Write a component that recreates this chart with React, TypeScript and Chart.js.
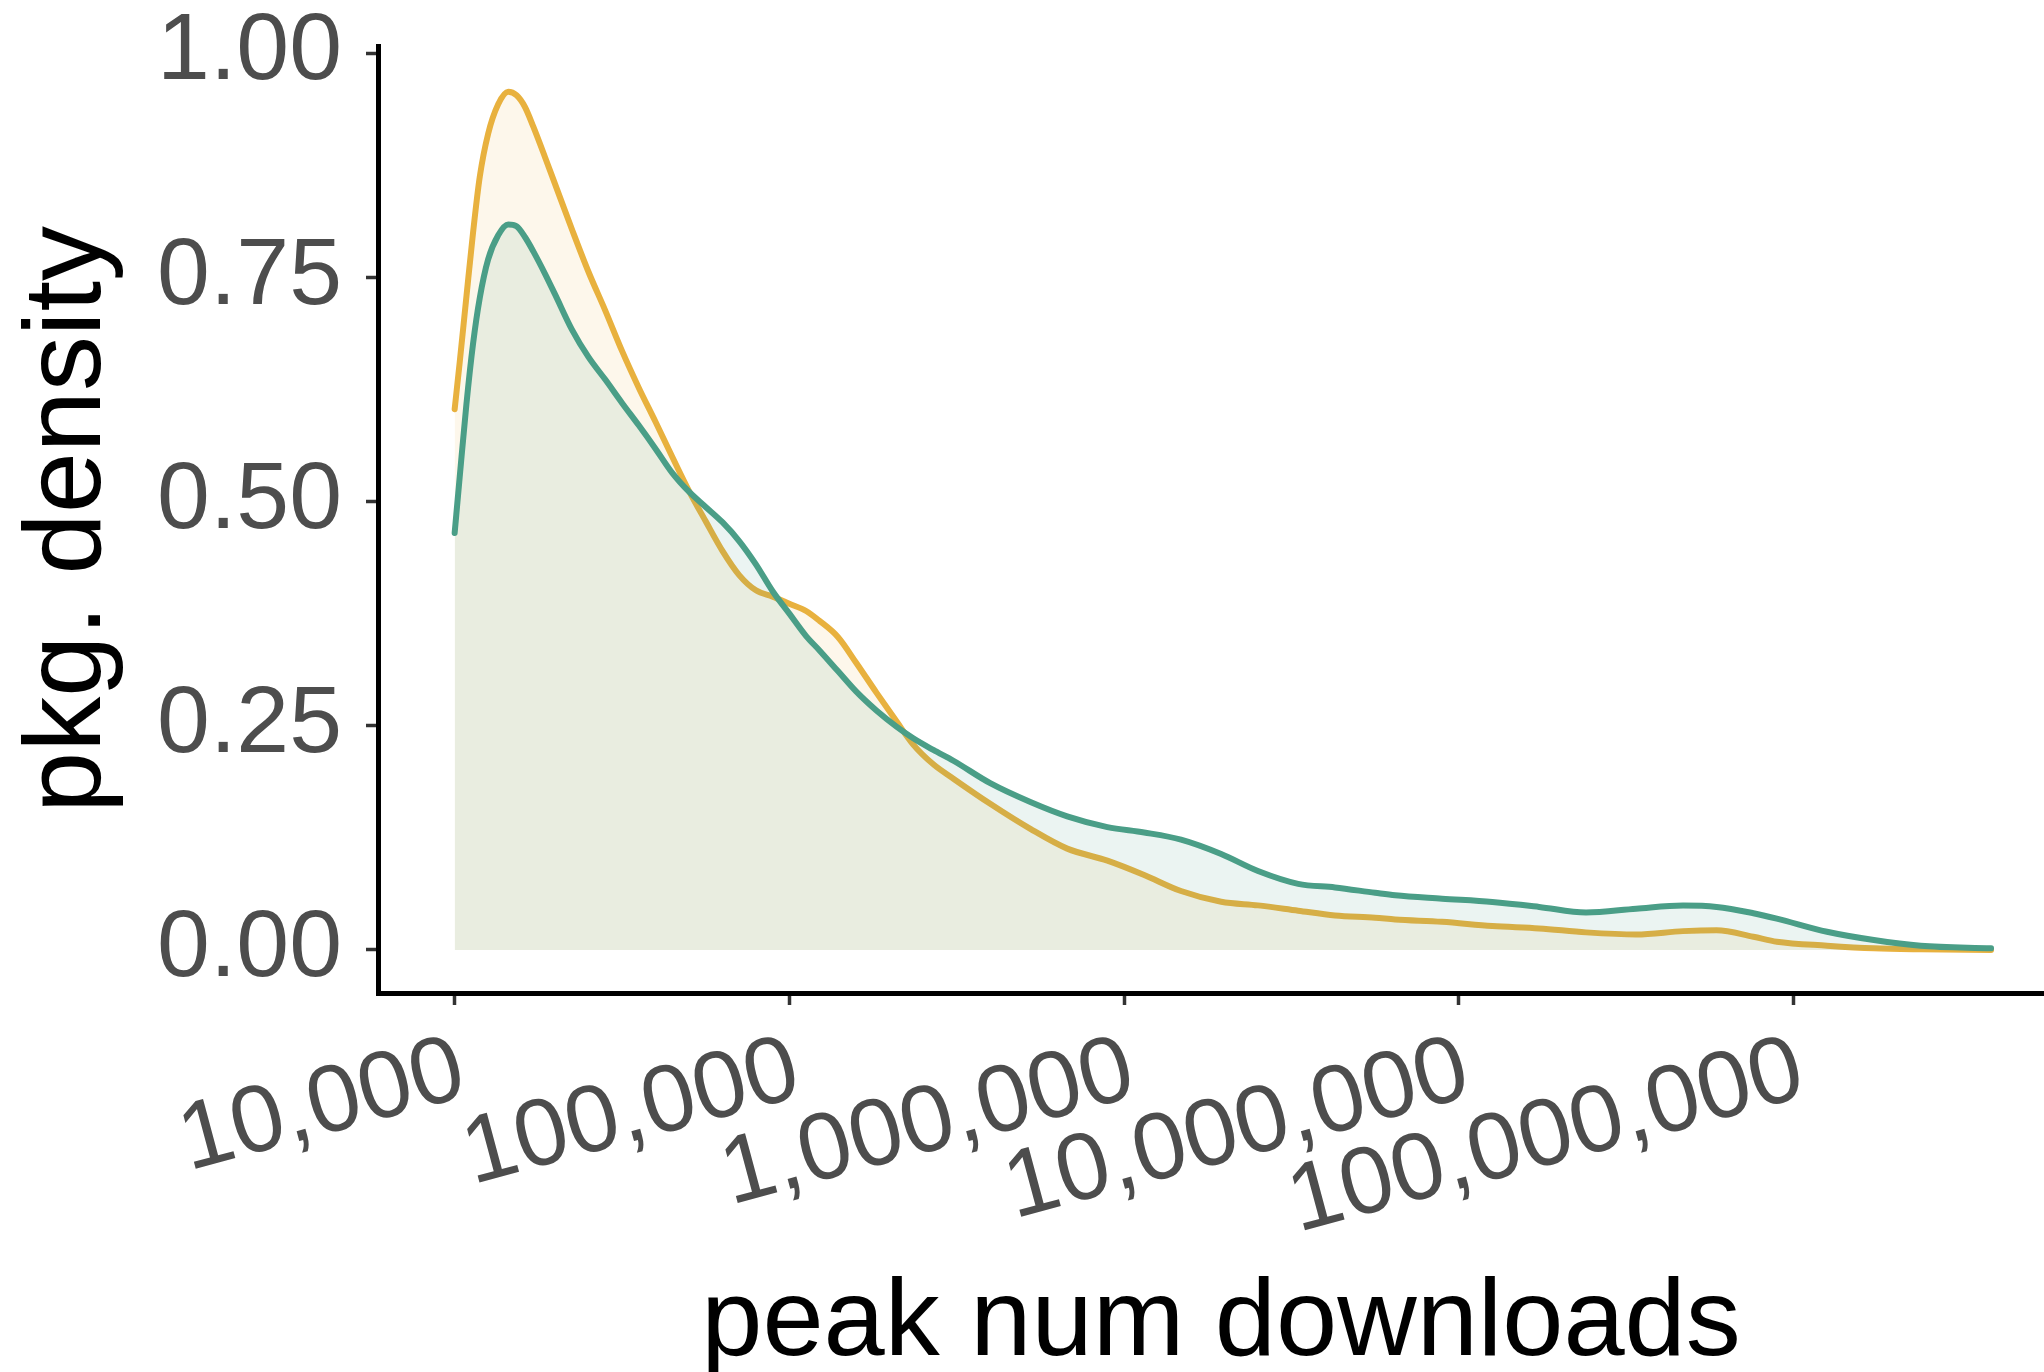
import React, { useEffect, useRef } from "react";
import { Chart, registerables } from "chart.js";

Chart.register(...registerables);

// x positions as log10(peak num downloads)
const logDownloads = [
  4.0, 4.015, 4.035, 4.055, 4.075, 4.1, 4.13, 4.16, 4.185, 4.21, 4.235, 4.27, 4.3, 4.35, 4.4, 4.45, 4.5,
  4.55, 4.6, 4.65, 4.7, 4.75, 4.8, 4.85, 4.9, 4.95, 5.0, 5.05, 5.09, 5.145, 5.2, 5.26, 5.32,
  5.37, 5.43, 5.49, 5.6, 5.72, 5.83, 5.95, 6.06, 6.17, 6.29, 6.4, 6.52, 6.63, 6.75, 6.81,
  6.95, 7.1, 7.24, 7.38, 7.53, 7.67, 7.77, 7.88, 7.95, 8.1, 8.24, 8.38, 8.59,
];

const densityYellow = [
  0.603, 0.655, 0.728, 0.8, 0.862, 0.91, 0.943, 0.957, 0.953, 0.94, 0.918, 0.884, 0.854, 0.804, 0.756, 0.713, 0.668,
  0.627, 0.589, 0.55, 0.512, 0.478, 0.445, 0.418, 0.401, 0.394, 0.386, 0.378, 0.367, 0.349, 0.32, 0.287, 0.255,
  0.229, 0.207, 0.191, 0.163, 0.135, 0.113, 0.0996, 0.0836, 0.0657, 0.0537, 0.0497, 0.0438, 0.0385, 0.036, 0.034,
  0.0314, 0.0266, 0.024, 0.0196, 0.0173, 0.021, 0.022, 0.0148, 0.0092, 0.0048, 0.0018, 0.0007, 0.0,
];

const densityGreen = [
  0.465, 0.527, 0.608, 0.676, 0.727, 0.77, 0.797, 0.809, 0.807, 0.795, 0.779, 0.754, 0.731, 0.692, 0.661, 0.636, 0.61,
  0.585, 0.559, 0.532, 0.511, 0.494, 0.477, 0.456, 0.43, 0.4, 0.375, 0.35, 0.334, 0.311, 0.288, 0.267, 0.249,
  0.236, 0.223, 0.211, 0.186, 0.165, 0.149, 0.137, 0.131, 0.123, 0.107, 0.088, 0.0737, 0.0697, 0.0637, 0.0609,
  0.0572, 0.0535, 0.048, 0.0417, 0.046, 0.0495, 0.048, 0.041, 0.035, 0.0203, 0.0111, 0.0048, 0.0018,
];

const xTickValues = [10000, 100000, 1000000, 10000000, 100000000];
const yTickValues = [0, 0.25, 0.5, 0.75, 1.0];

const X_MIN_EXP = 3.771;
const X_MAX_EXP = 8.808;
const Y_MIN = -0.048;
const Y_MAX = 1.008;

const YELLOW = "#E8B13E";
const GREEN = "#4A9E87";
const FONT = "'Liberation Sans', Arial, Helvetica, sans-serif";

export default function App() {
  const ref = useRef<HTMLCanvasElement | null>(null);

  useEffect(() => {
    if (!ref.current) return;
    const toPoints = (ys: number[]) =>
      logDownloads.map((e, i) => ({ x: Math.pow(10, e), y: ys[i] }));

    const chart = new Chart(ref.current, {
      type: "line",
      data: {
        datasets: [
          {
            label: "A",
            data: toPoints(densityGreen),
            borderColor: GREEN,
            backgroundColor: "rgba(74,158,135,0.11)",
            borderWidth: 6,
            pointRadius: 0,
            fill: "origin",
            cubicInterpolationMode: "monotone",
            borderCapStyle: "round",
            borderJoinStyle: "round",
          },
          {
            label: "B",
            data: toPoints(densityYellow),
            borderColor: YELLOW,
            backgroundColor: "rgba(232,177,62,0.10)",
            borderWidth: 6,
            pointRadius: 0,
            fill: "origin",
            cubicInterpolationMode: "monotone",
            borderCapStyle: "round",
            borderJoinStyle: "round",
          },
        ],
      },
      options: {
        animation: false,
        responsive: false,
        maintainAspectRatio: false,
        layout: { padding: { top: 46, right: 0, left: 0, bottom: 0 } },
        plugins: { legend: { display: false }, tooltip: { enabled: false } },
        scales: {
          x: {
            type: "logarithmic",
            min: Math.pow(10, X_MIN_EXP),
            max: Math.pow(10, X_MAX_EXP),
            afterBuildTicks: (s: any) => {
              s.ticks = xTickValues.map((v) => ({ value: v }));
            },
            afterFit: (s: any) => {
              s.height = 379;
              s.paddingLeft = 0;
              s.paddingRight = 0;
            },
            grid: {
              drawOnChartArea: false,
              drawTicks: true,
              tickLength: 12,
              tickWidth: 3.5,
              tickColor: "#333333",
            },
            border: { display: true, color: "#000000", width: 5 },
            ticks: {
              autoSkip: false,
              maxRotation: 15,
              minRotation: 15,
              color: "#4D4D4D",
              font: { family: FONT, size: 95 },
              padding: 10,
              labelOffset: 8,
              callback: (v: any) => Number(v).toLocaleString("en-US"),
            },
            title: {
              display: true,
              text: "peak num downloads",
              color: "#000000",
              font: { family: FONT, size: 110 },
              padding: { top: 0, bottom: -19 },
            },
          },
          y: {
            type: "linear",
            min: Y_MIN,
            max: Y_MAX,
            afterBuildTicks: (s: any) => {
              s.ticks = yTickValues.map((v) => ({ value: v }));
            },
            afterFit: (s: any) => {
              s.width = 378;
              s.paddingTop = 0;
              s.paddingBottom = 0;
            },
            grid: {
              drawOnChartArea: false,
              drawTicks: true,
              tickLength: 12,
              tickWidth: 3.5,
              tickColor: "#333333",
            },
            border: { display: true, color: "#000000", width: 5 },
            ticks: {
              color: "#4D4D4D",
              font: { family: FONT, size: 95 },
              padding: 24,
              callback: (v: any) => Number(v).toFixed(2),
            },
            title: {
              display: true,
              text: "pkg. density",
              color: "#000000",
              font: { family: FONT, size: 110 },
              padding: { top: 4, bottom: 0 },
            },
          },
        },
      },
    });
    return () => chart.destroy();
  }, []);

  return (
    <div
      style={{
        position: "absolute",
        left: 0,
        top: 0,
        width: 2044,
        height: 1372,
        overflow: "hidden",
        background: "#ffffff",
      }}
    >
      <canvas ref={ref} width={2064} height={1372} style={{ display: "block", width: 2064, height: 1372 }} />
    </div>
  );
}
